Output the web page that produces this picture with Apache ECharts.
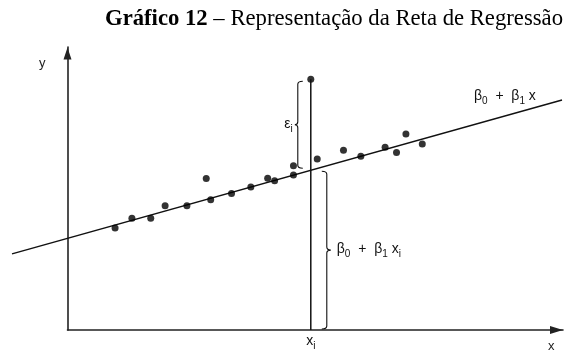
<!DOCTYPE html>
<html>
<head>
<meta charset="utf-8">
<script src="https://cdn.jsdelivr.net/npm/echarts@6/dist/echarts.min.js"></script>
<style>
  html, body { margin: 0; padding: 0; background: #fff; }
  #chart { width: 579px; height: 351px; }
</style>
</head>
<body>
<div id="chart"></div>
<script>
// Observed pairs (x, y)
const obsX = [0.96, 1.30, 1.68, 1.97, 2.41, 2.80, 2.89, 3.31, 3.70, 4.04, 4.18, 4.56, 4.56, 4.91, 5.04, 5.57, 5.92, 6.41, 6.64, 6.83, 7.16];
const obsY = [3.60, 3.95, 3.95, 4.39, 4.39, 5.35, 4.60, 4.82, 5.05, 5.36, 5.27, 5.80, 5.48, 8.86, 6.04, 6.35, 6.14, 6.46, 6.27, 6.93, 6.57];

// Regression line end points
const lineX = [-1.12, 9.98];
const lineY = [2.69, 8.13];

// Observation whose residual is annotated
const highlightIndex = 13;

// Axis ranges
const xRange = [0, 10];
const yRange = [0, 10];

// Texts
const titleBold = 'Gráfico 12';
const titleRest = ' – Representação da Reta de Regressão';
const axisNameX = 'x';
const axisNameY = 'y';

const INK = '#000';
const SANS = 'Liberation Sans, Arial, sans-serif';

// y on the regression line at a given x (used to place the braces and labels)
function lineAt(x) {
  const t = (x - lineX[0]) / (lineX[1] - lineX[0]);
  return lineY[0] + t * (lineY[1] - lineY[0]);
}

const scatterData = obsX.map((x, i) => [x, obsY[i]]);
const segmentData = [[lineX[0], lineY[0], lineX[1], lineY[1]]];
const xi = obsX[highlightIndex];
const annotationData = [[xi, obsY[highlightIndex], lineAt(xi)]];

// Vertical curly brace; dir = -1 points left, +1 points right
function bracePath(x, y1, y2, dir, hook, tip) {
  const ym = (y1 + y2) / 2;
  const r = 3;
  const hx = x - dir * hook;
  return 'M' + hx + ',' + y1 +
    ' Q' + x + ',' + y1 + ' ' + x + ',' + (y1 + r) +
    ' L' + x + ',' + (ym - r) +
    ' Q' + x + ',' + ym + ' ' + (x + dir * tip) + ',' + ym +
    ' Q' + x + ',' + ym + ' ' + x + ',' + (ym + r) +
    ' L' + x + ',' + (y2 - r) +
    ' Q' + x + ',' + y2 + ' ' + hx + ',' + y2;
}

const richMath = {
  m: { fontSize: 14, lineHeight: 15, verticalAlign: 'top', fontFamily: SANS, color: '#111' },
  s: { fontSize: 10, lineHeight: 17, verticalAlign: 'bottom', fontFamily: SANS, color: '#111' }
};

function mathText(x, y, text, align) {
  return {
    type: 'text',
    x: x, y: y,
    style: { text: text, rich: richMath, align: align, verticalAlign: 'top', fill: '#111' }
  };
}

function renderSegment(params, api) {
  const p0 = api.coord([api.value(0), api.value(1)]);
  const p1 = api.coord([api.value(2), api.value(3)]);
  return {
    type: 'line',
    shape: { x1: p0[0], y1: p0[1], x2: p1[0], y2: p1[1] },
    style: { stroke: '#111', lineWidth: 1.5 }
  };
}

function renderAnnotations(params, api) {
  const xv = api.value(0), yv = api.value(1), fit = api.value(2);
  const top = api.coord([xv, yv]);
  const onLine = api.coord([xv, fit]);
  const base = api.coord([xv, 0]);
  const X = top[0];

  const epsTop = top[1] + 2, epsBot = onLine[1] - 2;
  const betaTop = onLine[1] + 1, betaBot = base[1] - 1;
  const epsSpine = X - 13, betaSpine = X + 16;

  const lblAnchor = api.coord([8.85, lineAt(8.85)]);

  return {
    type: 'group',
    children: [
      { type: 'line', shape: { x1: X, y1: top[1], x2: X, y2: base[1] },
        style: { stroke: '#111', lineWidth: 1.5 } },
      { type: 'path', shape: { pathData: bracePath(epsSpine, epsTop, epsBot, -1, 5, 3) },
        style: { stroke: '#111', fill: 'none', lineWidth: 1.1 } },
      { type: 'path', shape: { pathData: bracePath(betaSpine, betaTop, betaBot, 1, 5, 4) },
        style: { stroke: '#111', fill: 'none', lineWidth: 1.1 } },
      mathText(epsSpine - 5, (epsTop + epsBot) / 2 - 8, '{m|ε}{s|i}', 'right'),
      mathText(betaSpine + 10, (betaTop + betaBot) / 2 - 8, '{m|β}{s|0}{m|  +  β}{s|1}{m| x}{s|i}', 'left'),
      mathText(X, base[1] + 4, '{m|x}{s|i}', 'center'),
      mathText(lblAnchor[0] - 32, lblAnchor[1] - 26, '{m|β}{s|0}{m|  +  β}{s|1}{m| x}', 'left')
    ]
  };
}

const chart = echarts.init(document.getElementById('chart'), null, { renderer: 'canvas' });

const axisCommon = {
  type: 'value',
  axisTick: { show: false },
  axisLabel: { show: false },
  splitLine: { show: false },
  axisLine: {
    show: true,
    onZero: false,
    symbol: ['none', 'triangle'],
    symbolOffset: [0, -6.5],
    lineStyle: { color: '#222', width: 1.6 }
  }
};

chart.setOption({
  animation: false,
  backgroundColor: '#fff',
  title: {
    left: 100,
    top: 3,
    text: '{b|' + titleBold + '}{r|' + titleRest + '}',
    textStyle: {
      rich: {
        b: { fontFamily: 'Liberation Serif, Times New Roman, serif', fontWeight: 'bold', fontSize: 22.7, color: '#000' },
        r: { fontFamily: 'Liberation Serif, Times New Roman, serif', fontWeight: 'normal', fontSize: 22.7, color: '#000' }
      }
    }
  },
  grid: { left: 67.5, right: 16, top: 47, bottom: 21, containLabel: false },
  xAxis: Object.assign({}, axisCommon, {
    min: xRange[0], max: xRange[1],
    axisLine: Object.assign({}, axisCommon.axisLine, { symbolSize: [8, 13] })
  }),
  yAxis: Object.assign({}, axisCommon, {
    min: yRange[0], max: yRange[1],
    axisLine: Object.assign({}, axisCommon.axisLine, { symbolSize: [8, 12] })
  }),
  graphic: [
    { type: 'text', left: 39, top: 57, style: { text: axisNameY, font: '13px ' + SANS, fill: '#222' } },
    { type: 'text', left: 548, top: 340, style: { text: axisNameX, font: '13px ' + SANS, fill: '#222' } }
  ],
  series: [
    {
      type: 'custom',
      name: 'regression',
      data: segmentData,
      encode: { x: [0, 2], y: [1, 3] },
      clip: false,
      silent: true,
      renderItem: renderSegment,
      z: 2
    },
    {
      type: 'scatter',
      data: scatterData,
      symbol: 'circle',
      symbolSize: 7,
      itemStyle: { color: INK },
      z: 3
    },
    {
      type: 'custom',
      data: annotationData,
      clip: false,
      silent: true,
      renderItem: renderAnnotations,
      z: 4
    }
  ]
});
</script>
</body>
</html>
